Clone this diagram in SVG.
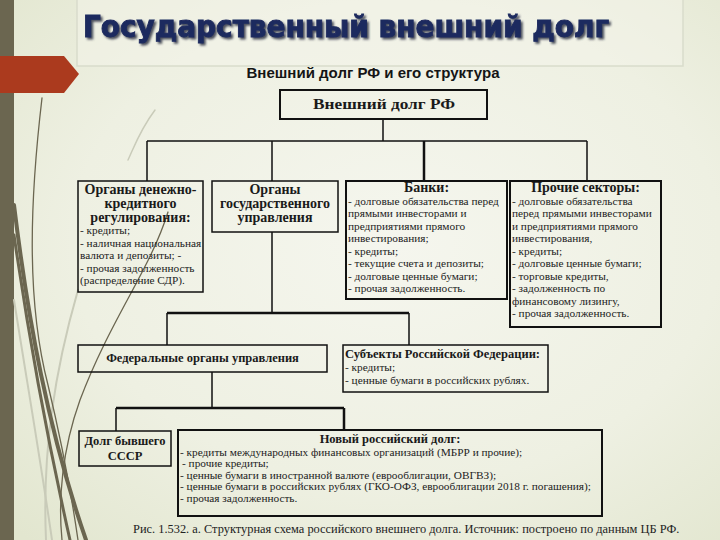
<svg xmlns="http://www.w3.org/2000/svg" width="720" height="540" viewBox="0 0 720 540">
<defs>
<radialGradient id="bg" cx="0.55" cy="0.45" r="0.75">
<stop offset="0" stop-color="#f5f6ee"/>
<stop offset="0.6" stop-color="#eef0e2"/>
<stop offset="1" stop-color="#e2e6cf"/>
</radialGradient>
<filter id="shadow" x="-5%" y="-30%" width="110%" height="160%">
<feGaussianBlur in="SourceAlpha" stdDeviation="0.8"/>
<feOffset dx="2" dy="2" result="o"/>
<feFlood flood-color="#2e3344" flood-opacity="0.85"/>
<feComposite in2="o" operator="in"/>
<feMerge><feMergeNode/><feMergeNode in="SourceGraphic"/></feMerge>
</filter>
<style>
.box{fill:none;stroke:#111;stroke-width:1.5}
.thick{stroke-width:2}
.ln{stroke:#111;stroke-width:1.5;fill:none}
.ln2{stroke:#111;stroke-width:2.5;fill:none}
.b{font-family:"Liberation Serif","Times New Roman",serif;font-weight:bold;font-size:14px;fill:#1a1a1a}
.bs{font-family:"Liberation Serif","Times New Roman",serif;font-weight:bold;font-size:12.5px;fill:#1a1a1a}
.r{font-family:"Liberation Serif","Times New Roman",serif;font-size:11.3px;fill:#222}
.c{text-anchor:middle}
.deco{fill:none;stroke:#6b6650;stroke-linecap:round}
.faint{fill:none;stroke:#c9cbb9;stroke-linecap:round}
</style>
</defs>
<rect x="0" y="0" width="720" height="540" fill="url(#bg)"/>
<rect x="0" y="0" width="14" height="540" fill="#6b6650"/>
<path class="faint" stroke-width="2" d="M14,300 C30,400 42,470 52,540"/>
<path class="faint" stroke-width="2" d="M78,290 C55,370 42,450 46,540"/>
<path class="faint" stroke-width="1.5" d="M155,110 C140,130 135,145 128,160"/>
<path class="deco" stroke-width="1.3" d="M42,98 C30,200 26,300 48,385 C60,435 70,485 78,540"/>
<path class="deco" stroke-width="4" d="M14,205 C28,320 48,430 86,540"/>
<path class="deco" stroke-width="3" d="M14,235 C32,360 52,460 70,540"/>
<path class="deco" stroke-width="1.3" d="M168,212 C150,270 110,320 80,400 C62,450 58,500 62,540"/>
<polygon points="0,56 64,56 79,74 64,93 0,93" fill="#ab3a1e"/>
<rect x="77" y="-2" width="606" height="68" fill="#f3f4ea" fill-opacity="0.5" stroke="#d9dccb" stroke-width="1.5"/>
<text x="83" y="37" font-family="DejaVu Sans, sans-serif" font-weight="bold" font-size="30" fill="#1c2a5e" stroke="#1c2a5e" stroke-width="1" textLength="526" lengthAdjust="spacingAndGlyphs" filter="url(#shadow)">Государственный внешний долг</text>
<text x="373" y="78" text-anchor="middle" font-family="Liberation Sans, Arial, sans-serif" font-weight="bold" font-size="14.5" fill="#151515" textLength="253" lengthAdjust="spacingAndGlyphs">Внешний долг РФ и его структура</text>
<g id="connectors">
<path class="ln" d="M383,119 V141 M147,141 H587 M147,141 V181 M272,141 V181 M587,141 V181"/>
<path class="ln2" d="M424,141 V181"/>
<path class="ln" d="M272,232 V313 M167,313 V345 M409,313 V345"/>
<path class="ln2" d="M167,313 H409"/>
<path class="ln" d="M212,372 V408 M116,408 V431"/>
<path class="ln2" d="M116,408 H344 M344,408 V430"/>
</g>
<g id="root">
<rect class="box thick" x="280" y="90" width="207" height="29"/>
<text class="b" x="313" y="109" font-size="16" textLength="142" lengthAdjust="spacingAndGlyphs">Внешний долг РФ</text>
</g>
<g id="n1">
<rect class="box" x="78" y="181" width="125" height="111"/>
<text class="b c" x="140.5" y="194">Органы денежно-</text>
<text class="b c" x="140.5" y="208">кредитного</text>
<text class="b c" x="140.5" y="222">регулирования:</text>
<text class="r" x="80" y="234">- кредиты;</text>
<text class="r" x="80" y="246.5">- наличная национальная</text>
<text class="r" x="80" y="259">валюта и депозиты; -</text>
<text class="r" x="80" y="271.5">- прочая задолженность</text>
<text class="r" x="80" y="284">(распределение СДР).</text>
</g>
<g id="n2">
<rect class="box" x="212" y="181" width="126" height="51"/>
<text class="b c" x="275" y="194">Органы</text>
<text class="b c" x="275" y="208">государственного</text>
<text class="b c" x="275" y="222">управления</text>
</g>
<g id="n3">
<rect class="box thick" x="346" y="181" width="161" height="118"/>
<text class="b c" x="426.5" y="192">Банки:</text>
<text class="r" x="348" y="204.5">- долговые обязательства перед</text>
<text class="r" x="348" y="217">прямыми инвесторами и</text>
<text class="r" x="348" y="229.5">предприятиями прямого</text>
<text class="r" x="348" y="242">инвестирования;</text>
<text class="r" x="348" y="254.5">- кредиты;</text>
<text class="r" x="348" y="267">- текущие счета и депозиты;</text>
<text class="r" x="348" y="279.5">- долговые ценные бумаги;</text>
<text class="r" x="348" y="292">- прочая задолженность.</text>
</g>
<g id="n4">
<rect class="box thick" x="510" y="181" width="151" height="146"/>
<text class="b c" x="585.5" y="192">Прочие секторы:</text>
<text class="r" x="512" y="204.5">- долговые обязательства</text>
<text class="r" x="512" y="217">перед прямыми инвесторами</text>
<text class="r" x="512" y="229.5">и предприятиями прямого</text>
<text class="r" x="512" y="242">инвестирования,</text>
<text class="r" x="512" y="254.5">- кредиты;</text>
<text class="r" x="512" y="267">- долговые ценные бумаги;</text>
<text class="r" x="512" y="279.5">- торговые кредиты,</text>
<text class="r" x="512" y="292">- задолженность по</text>
<text class="r" x="512" y="304.5">финансовому лизингу,</text>
<text class="r" x="512" y="317">- прочая задолженность.</text>
</g>
<g id="n5">
<rect class="box" x="78" y="345" width="249" height="27"/>
<text class="bs c" x="202.5" y="362">Федеральные органы управления</text>
</g>
<g id="n6">
<rect class="box" x="343" y="345" width="205" height="47"/>
<text class="bs" x="345" y="358" font-size="13.5">Субъекты Российской Федерации:</text>
<text class="r" x="345" y="371">- кредиты;</text>
<text class="r" x="345" y="384">- ценные бумаги в российских рублях.</text>
</g>
<g id="n7">
<rect class="box" x="79" y="431" width="92" height="35"/>
<text class="bs c" x="125" y="445" font-size="14">Долг бывшего</text>
<text class="bs c" x="125" y="460" font-size="14">СССР</text>
</g>
<g id="n8">
<rect class="box thick" x="178" y="430" width="424" height="86"/>
<text class="bs c" x="390" y="443" font-size="13.2">Новый российский долг:</text>
<text class="r" x="180" y="455.5" font-size="11.2">- кредиты международных финансовых организаций (МБРР и прочие);</text>
<text class="r" x="182" y="467" font-size="11.2">- прочие кредиты;</text>
<text class="r" x="180" y="478.5" font-size="11.2">- ценные бумаги в иностранной валюте (еврооблигации, ОВГВЗ);</text>
<text class="r" x="180" y="490" font-size="11.2">- ценные бумаги в российских рублях (ГКО-ОФЗ, еврооблигации 2018 г. погашения);</text>
<text class="r" x="180" y="501.5" font-size="11.2">- прочая задолженность.</text>
</g>
<text x="133" y="533" font-family="Liberation Serif, 'Times New Roman', serif" font-size="12.4" fill="#222">Рис. 1.532. а.  Структурная схема российского внешнего долга. Источник: построено по данным ЦБ РФ.</text>
</svg>
